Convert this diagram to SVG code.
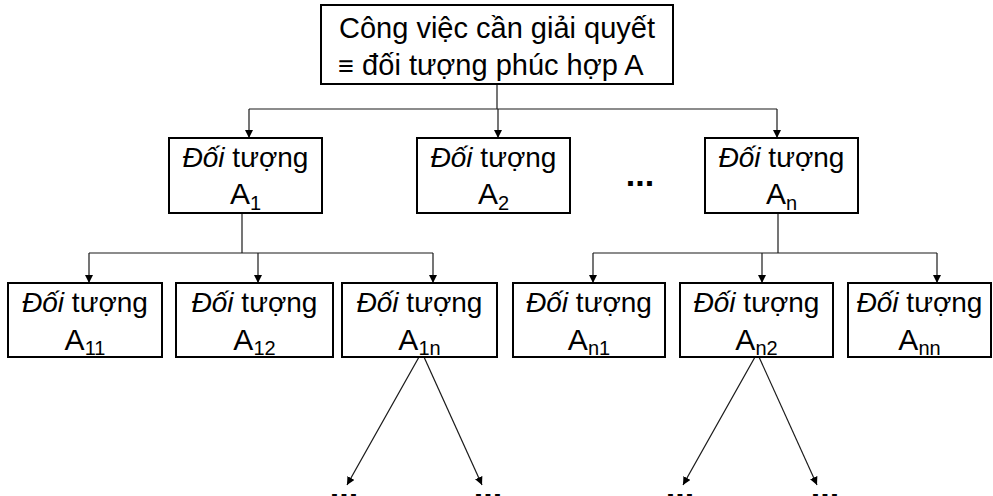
<svg xmlns="http://www.w3.org/2000/svg" width="993" height="496" viewBox="0 0 993 496">
<style>
.box{fill:#fff;stroke:#000;stroke-width:2}
.t{font-family:"Liberation Sans",Arial,sans-serif;font-size:28px;fill:#000;text-anchor:middle}
.top{font-size:29px}
.a{font-size:30px}
.sub{font-size:20px}
.it{font-style:italic}
.c{fill:none;stroke:#1a1a1a;stroke-width:1.2}
.dots{font-family:"Liberation Sans",Arial,sans-serif;font-size:34px;font-weight:bold;fill:#000;text-anchor:middle}
</style>
<defs>
<marker id="ah" viewBox="0 0 10 10" refX="10" refY="5" markerWidth="8" markerHeight="8" markerUnits="userSpaceOnUse" orient="auto">
<path d="M0,0 L10,5 L0,10 z" fill="#000"/>
</marker>
</defs>
<g id="connectors">
<path class="c" d="M497,84 V109"/>
<path class="c" d="M249,109 H777"/>
<path class="c" d="M249,109 V138" marker-end="url(#ah)"/>
<path class="c" d="M498,109 V138" marker-end="url(#ah)"/>
<path class="c" d="M777,109 V138" marker-end="url(#ah)"/>
<path class="c" d="M242,213 V253"/>
<path class="c" d="M89,253 H433"/>
<path class="c" d="M89,253 V283" marker-end="url(#ah)"/>
<path class="c" d="M258,253 V283" marker-end="url(#ah)"/>
<path class="c" d="M433,253 V283" marker-end="url(#ah)"/>
<path class="c" d="M778,213 V253"/>
<path class="c" d="M593,253 H937"/>
<path class="c" d="M593,253 V283" marker-end="url(#ah)"/>
<path class="c" d="M762,253 V283" marker-end="url(#ah)"/>
<path class="c" d="M937,253 V283" marker-end="url(#ah)"/>
<path class="c" d="M419,357 L347,485" marker-end="url(#ah)"/>
<path class="c" d="M424,357 L482,485" marker-end="url(#ah)"/>
<path class="c" d="M755,357 L683,485" marker-end="url(#ah)"/>
<path class="c" d="M759,357 L817,485" marker-end="url(#ah)"/>
</g>
<g id="root">
<rect class="box" x="321" y="5" width="352" height="79"/>
<text class="t top" x="497" y="38">Công việc cần giải quyết</text>
<text class="t top" x="491" y="75"><tspan font-size="27">≡</tspan> đối tượng phúc hợp A</text>
</g>
<g id="A1">
<rect class="box" x="169" y="138" width="153" height="75"/>
<text class="t" x="245.5" y="167"><tspan class="it">Đối</tspan> tượng</text>
<text class="t a" x="245.5" y="204">A<tspan class="sub" dy="6">1</tspan></text>
</g>
<g id="A2">
<rect class="box" x="417" y="138" width="153" height="75"/>
<text class="t" x="493.5" y="167"><tspan class="it">Đối</tspan> tượng</text>
<text class="t a" x="493.5" y="204">A<tspan class="sub" dy="6">2</tspan></text>
</g>
<g id="dots-mid"><text class="dots" x="640" y="186">...</text></g>
<g id="An">
<rect class="box" x="705" y="138" width="153" height="75"/>
<text class="t" x="781.5" y="167"><tspan class="it">Đối</tspan> tượng</text>
<text class="t a" x="781.5" y="204">A<tspan class="sub" dy="6">n</tspan></text>
</g>
<g id="A11">
<rect class="box" x="8" y="283" width="154" height="74"/>
<text class="t" x="85" y="312"><tspan class="it">Đối</tspan> tượng</text>
<text class="t a" x="85" y="350">A<tspan class="sub" dy="5">11</tspan></text>
</g>
<g id="A12">
<rect class="box" x="176" y="283" width="157" height="74"/>
<text class="t" x="254.5" y="312"><tspan class="it">Đối</tspan> tượng</text>
<text class="t a" x="254.5" y="350">A<tspan class="sub" dy="5">12</tspan></text>
</g>
<g id="A1n">
<rect class="box" x="342" y="283" width="155" height="74"/>
<text class="t" x="419.5" y="312"><tspan class="it">Đối</tspan> tượng</text>
<text class="t a" x="419.5" y="350">A<tspan class="sub" dy="5">1n</tspan></text>
</g>
<g id="An1">
<rect class="box" x="513" y="283" width="152" height="74"/>
<text class="t" x="589" y="312"><tspan class="it">Đối</tspan> tượng</text>
<text class="t a" x="589" y="350">A<tspan class="sub" dy="5">n1</tspan></text>
</g>
<g id="An2">
<rect class="box" x="680" y="283" width="153" height="74"/>
<text class="t" x="756.5" y="312"><tspan class="it">Đối</tspan> tượng</text>
<text class="t a" x="756.5" y="350">A<tspan class="sub" dy="5">n2</tspan></text>
</g>
<g id="Ann">
<rect class="box" x="848" y="283" width="143" height="74"/>
<text class="t" x="919.5" y="312"><tspan class="it">Đối</tspan> tượng</text>
<text class="t a" x="919.5" y="350">A<tspan class="sub" dy="5">nn</tspan></text>
</g>
<g id="dots-bottom">
<text class="dots" x="344" y="499">...</text>
<text class="dots" x="488" y="499">...</text>
<text class="dots" x="680" y="499">...</text>
<text class="dots" x="825" y="499">...</text>
</g>
</svg>
